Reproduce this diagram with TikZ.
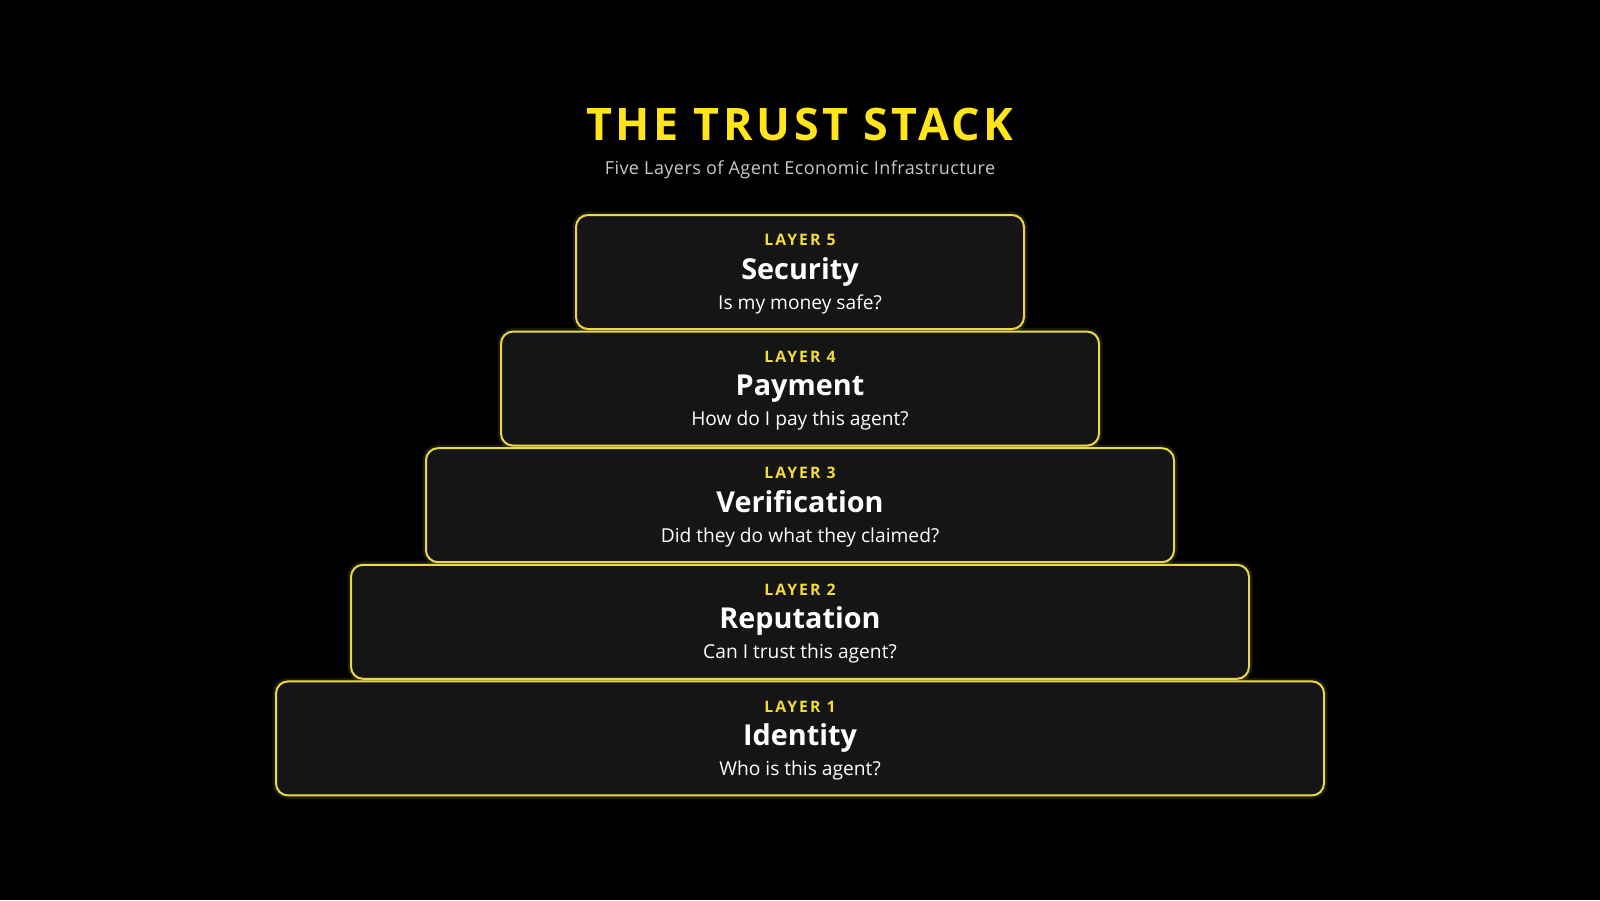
\documentclass[tikz,border=0pt]{standalone}
\usepackage{fontspec}
\setmainfont{Open Sans}
\newfontfamily\titlefont[LetterSpace=8]{Open Sans}
\newfontfamily\subfont[LetterSpace=2.5]{Open Sans}
\newfontfamily\labelfont[LetterSpace=13]{Open Sans}
\definecolor{titleyellow}{HTML}{FFE51A}
\definecolor{labelyellow}{HTML}{F2DB3A}
\definecolor{edgeyellow}{HTML}{EAD84A}
\definecolor{boxfill}{HTML}{151515}
\definecolor{subgray}{HTML}{C8C8C8}
\tikzset{
  layerbox/.style={draw=edgeyellow, line width=1pt, fill=boxfill, rounded corners=6pt,
    minimum height=57pt, inner sep=0pt,
    preaction={draw=edgeyellow, draw opacity=0.12, line width=3.5pt}},
  layerlabel/.style={anchor=base, inner sep=0pt, text=labelyellow, font=\labelfont\fontsize{7.9pt}{8pt}\selectfont\bfseries},
  layername/.style={anchor=base, inner sep=0pt, text=white, font=\fontsize{14.4pt}{16pt}\selectfont\bfseries},
  layerq/.style={anchor=base, inner sep=0pt, text=white, font=\fontsize{9.6pt}{11pt}\selectfont},
}
\begin{document}
\begin{tikzpicture}[x=0.5pt,y=-0.5pt]
\fill[black] (0,0) rectangle (1600,900);
\useasboundingbox (0,0) rectangle (1600,900);
\node[anchor=base, inner sep=0pt, text=titleyellow, font=\titlefont\fontsize{22.4pt}{24pt}\selectfont\bfseries] (title) at (800,140.7) {THE TRUST STACK};
\node[anchor=base, inner sep=0pt, text=subgray, font=\subfont\fontsize{9pt}{10pt}\selectfont] (subtitle) at (800,174) {Five Layers of Agent Economic Infrastructure};
\foreach \i/\w/\cy/\nm/\q in {
  5/448/272/Security/{Is my money safe?},
  4/598/388.6/Payment/{How do I pay this agent?},
  3/748/505.2/Verification/{Did they do what they claimed?},
  2/898/621.8/Reputation/{Can I trust this agent?},
  1/1048/738.4/Identity/{Who is this agent?}}{
  \node[layerbox, minimum width=\w*0.5pt] (L\i) at (800,\cy) {};
  \node[layerlabel] (L\i lab) at (800,\cy-26.3) {LAYER \i};
  \node[layername] (L\i name) at (800,\cy+7) {\nm};
  \node[layerq] (L\i q) at (800,\cy+37) {\q};
}
\end{tikzpicture}
\end{document}
